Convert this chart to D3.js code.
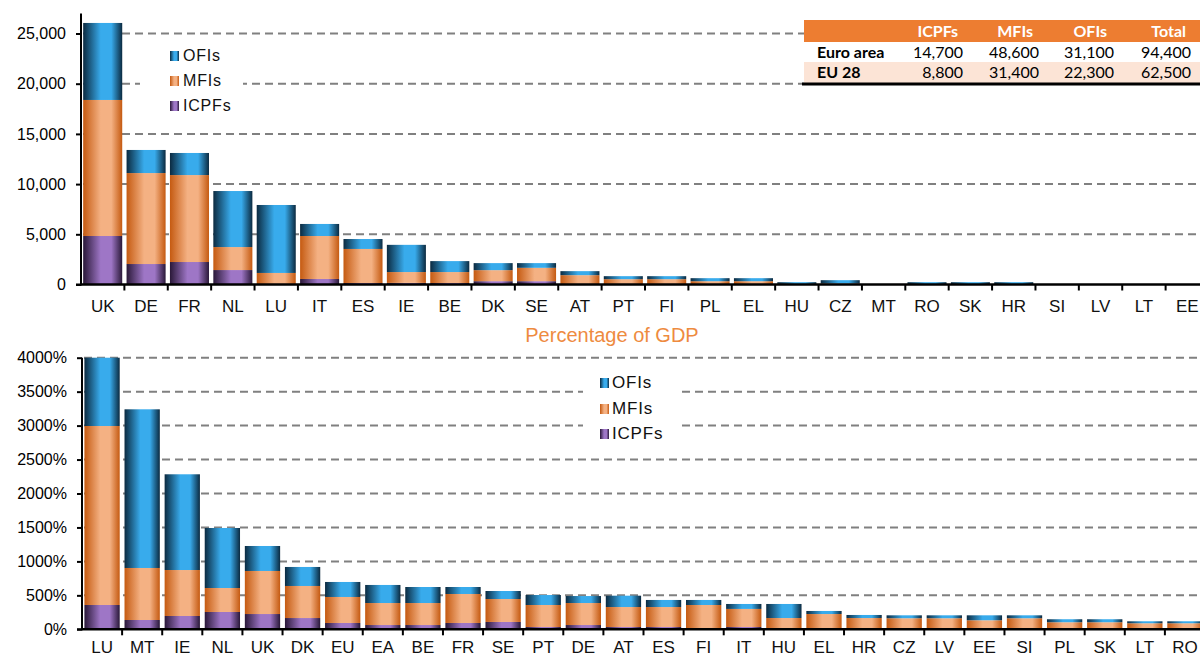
<!DOCTYPE html>
<html>
<head>
<meta charset="utf-8">
<script src="https://cdn.jsdelivr.net/npm/d3@7"></script>
<style>
  html, body { margin: 0; padding: 0; background: #fff; }
  svg { display: block; }
</style>
</head>
<body>
<svg id="chart" width="1200" height="657"></svg>
<script>
// ---------- DATA ----------
const seriesNames = ["ICPFs", "MFIs", "OFIs"];

// Top chart: EUR billions
const topCategories = ["UK","DE","FR","NL","LU","IT","ES","IE","BE","DK","SE","AT","PT","FI","PL","EL","HU","CZ","MT","RO","SK","HR","SI","LV","LT","EE"];
const topICPFs = [4830,2040,2240,1440,20,550,150,160,150,330,330,30,20,20,10,10,0,0,0,0,0,0,0,0,0,0];
const topMFIs  = [13550,9060,8660,2290,1130,4280,3390,1080,1090,1100,1330,900,510,510,320,320,60,100,0,20,20,20,0,0,0,0];
const topOFIs  = [7670,2300,2200,5580,6770,1200,990,2710,1090,700,470,400,300,300,300,300,170,330,0,210,210,210,0,0,0,0];
const topTicks = [0,5000,10000,15000,20000,25000];

// Bottom chart: percentage of GDP
const botCategories = ["LU","MT","IE","NL","UK","DK","EU","EA","BE","FR","SE","PT","DE","AT","ES","FI","IT","HU","EL","HR","CZ","LV","EE","SI","PL","SK","LT","RO"];
const botICPFs = [358,137,196,255,225,166,93,63,63,93,108,34,63,34,34,15,34,10,10,10,10,10,10,10,10,10,5,5];
const botMFIs  = [2636,766,677,353,634,472,383,324,324,427,338,324,324,294,294,343,266,156,215,156,153,153,123,153,94,94,84,84];
const botOFIs  = [1006,2337,1410,884,368,280,221,266,236,103,118,147,103,167,104,74,73,207,45,45,43,43,73,43,44,44,29,29];
const botTicks = [0,500,1000,1500,2000,2500,3000,3500,4000];
const botTitle = "Percentage of GDP";

// Summary table
const tableHeader = ["", "ICPFs", "MFIs", "OFIs", "Total"];
const tableRowLabels = ["Euro area", "EU 28"];
const tableEuroArea = ["14,700", "48,600", "31,100", "94,400"];
const tableEU28 = ["8,800", "31,400", "22,300", "62,500"];

// ---------- DRAWING ----------
const svg = d3.select("#chart");
const defs = svg.append("defs");

const gradSpecs = {
  OFIs:  { dark: "#0b2a40", light: "#38abec" },
  MFIs:  { dark: "#c55a11", light: "#f4b183" },
  ICPFs: { dark: "#2a1838", light: "#9e76c6" }
};
Object.entries(gradSpecs).forEach(([k, c]) => {
  const g = defs.append("linearGradient").attr("id", "g-" + k)
    .attr("x1", "0").attr("x2", "1").attr("y1", "0").attr("y2", "0");
  g.append("stop").attr("offset", "0").attr("stop-color", c.dark);
  g.append("stop").attr("offset", "0.45").attr("stop-color", c.light);
  g.append("stop").attr("offset", "0.72").attr("stop-color", c.light);
  g.append("stop").attr("offset", "1").attr("stop-color", c.dark);
});

const FONT = "'Liberation Sans', Arial, sans-serif";

function drawPanel(opts) {
  const { cats, icpf, mfi, ofi, ticks, yDomain, yRange, xRange, pad, fmt, legend } = opts;
  const g = svg.append("g");
  const x = d3.scaleBand().domain(cats).range(xRange).paddingInner(pad.inner).paddingOuter(pad.outer);
  const y = d3.scaleLinear().domain(yDomain).range(yRange);

  const data = cats.map((c, i) => ({ cat: c, ICPFs: icpf[i], MFIs: mfi[i], OFIs: ofi[i] }));
  const stack = d3.stack().keys(seriesNames)(data);

  // gridlines
  g.append("g").selectAll("line").data(ticks.filter(t => t > 0)).join("line")
    .attr("x1", xRange[0] + 2).attr("x2", 1200)
    .attr("y1", d => y(d)).attr("y2", d => y(d))
    .attr("stroke", "#808080").attr("stroke-width", 2).attr("stroke-dasharray", "8,5");

  // legend background box (hides gridlines)
  g.append("rect").attr("x", legend.box[0]).attr("y", legend.box[1])
    .attr("width", legend.box[2]).attr("height", legend.box[3]).attr("fill", "#fff");

  // bars
  g.append("g").selectAll("g").data(stack).join("g")
    .attr("fill", d => "url(#g-" + d.key + ")")
    .selectAll("rect").data(d => d).join("rect")
    .attr("x", d => x(d.data.cat))
    .attr("width", x.bandwidth())
    .attr("y", d => y(d[1]))
    .attr("height", d => Math.max(0, y(d[0]) - y(d[1])));

  // y axis
  const yAxis = d3.axisLeft(y).tickValues(ticks).tickFormat(fmt).tickSize(5).tickPadding(10);
  const ya = g.append("g").attr("transform", `translate(${xRange[0]},0)`).call(yAxis);
  ya.select(".domain").attr("stroke", "#000").attr("stroke-width", 2)
    .attr("d", `M-5,${yRange[0]}H0V${yRange[1]}`);
  ya.selectAll(".tick line").attr("stroke", "#000").attr("stroke-width", 2);
  ya.selectAll(".tick text").attr("font-family", FONT).attr("font-size", 16).attr("fill", "#000");

  // x axis
  const base = y(0);
  g.append("line").attr("x1", xRange[0]).attr("x2", 1200).attr("y1", base).attr("y2", base)
    .attr("stroke", "#000").attr("stroke-width", 2.5);
  const step = x.step();
  const x0 = x(cats[0]) - x.paddingInner() * step / 2;
  g.append("g").selectAll("line").data(d3.range(1, cats.length + 1)).join("line")
    .attr("x1", i => x0 + i * step).attr("x2", i => x0 + i * step)
    .attr("y1", base).attr("y2", base + 6)
    .attr("stroke", "#000").attr("stroke-width", 2);
  g.append("g").selectAll("text").data(cats).join("text")
    .attr("x", d => x(d) + x.bandwidth() / 2)
    .attr("y", opts.labelY)
    .attr("text-anchor", "middle")
    .attr("font-family", FONT).attr("font-size", 17).attr("fill", "#111")
    .text(d => d);

  // legend
  const lg = g.append("g");
  const order = ["OFIs", "MFIs", "ICPFs"];
  order.forEach((k, i) => {
    lg.append("rect").attr("x", legend.sx).attr("y", legend.sy[i] - 10)
      .attr("width", 9).attr("height", 10).attr("fill", "url(#g-" + k + ")");
    lg.append("text").attr("x", legend.tx).attr("y", legend.sy[i])
      .attr("font-family", FONT).attr("font-size", legend.fs).attr("letter-spacing", 0.8)
      .attr("fill", "#111").text(k);
  });
  return { x, y };
}

// top panel
drawPanel({
  cats: topCategories, icpf: topICPFs, mfi: topMFIs, ofi: topOFIs,
  ticks: topTicks, yDomain: [0, 27000], yRange: [284.5, 284.5 - 27000 * 251 / 25000],
  xRange: [81, 1209], pad: { inner: 0.1, outer: 0.05 },
  fmt: d3.format(","), labelY: 312,
  legend: { box: [140, 40, 103, 80], sx: 170, tx: 183, sy: [61, 86, 111], fs: 16 }
});

// bottom panel
drawPanel({
  cats: botCategories, icpf: botICPFs, mfi: botMFIs, ofi: botOFIs,
  ticks: botTicks, yDomain: [0, 4000], yRange: [629.3, 357.7],
  xRange: [82, 1205], pad: { inner: 0.12, outer: 0.06 },
  fmt: d => d + "%", labelY: 653,
  legend: { box: [583, 366, 97, 84], sx: 600, tx: 612, sy: [388, 414, 439], fs: 17 }
});

// title for bottom panel
svg.append("text").attr("x", 612).attr("y", 342).attr("text-anchor", "middle")
  .attr("font-family", FONT).attr("font-size", 20).attr("fill", "#ee8b3f").text(botTitle);

// summary table
const TFONT = "Lato, 'Open Sans', sans-serif";
const tb = svg.append("g");
tb.append("rect").attr("x", 804).attr("y", 20).attr("width", 396).attr("height", 22).attr("fill", "#ed7d31");
tb.append("rect").attr("x", 804).attr("y", 42).attr("width", 396).attr("height", 20).attr("fill", "#fff");
tb.append("rect").attr("x", 804).attr("y", 62).attr("width", 396).attr("height", 21).attr("fill", "#fce4d6");
tb.append("line").attr("x1", 802).attr("x2", 1200).attr("y1", 84).attr("y2", 84)
  .attr("stroke", "#000").attr("stroke-width", 3);
const colRight = [963, 1039, 1114, 1191];
const headRight = [958, 1033, 1107, 1186];
tableHeader.slice(1).forEach((h, i) => {
  tb.append("text").attr("x", headRight[i]).attr("y", 37).attr("text-anchor", "end")
    .attr("font-family", TFONT).attr("font-weight", "bold").attr("font-size", 16)
    .attr("fill", "#fff").text(h);
});
[tableEuroArea, tableEU28].forEach((row, r) => {
  const yy = r === 0 ? 58 : 78;
  tb.append("text").attr("x", 817).attr("y", yy)
    .attr("font-family", TFONT).attr("font-weight", "bold").attr("font-size", 16)
    .attr("fill", "#000").text(tableRowLabels[r]);
  row.forEach((v, i) => {
    tb.append("text").attr("x", colRight[i]).attr("y", yy).attr("text-anchor", "end")
      .attr("font-family", TFONT).attr("font-size", 16).attr("fill", "#000").text(v);
  });
});
</script>
</body>
</html>
